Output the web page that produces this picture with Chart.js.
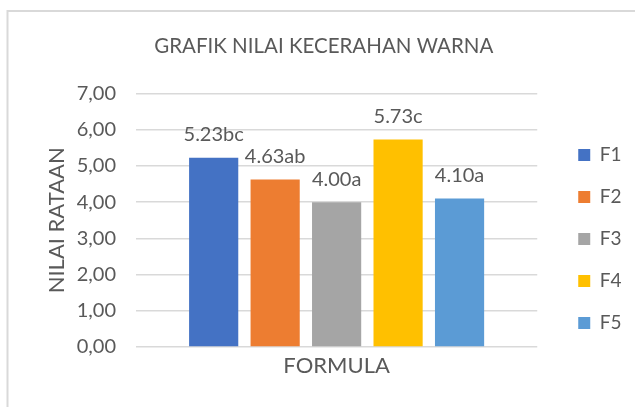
<!DOCTYPE html>
<html>
<head>
<meta charset="utf-8">
<script src="https://cdn.jsdelivr.net/npm/chart.js"></script>
<style>
  body { margin: 0; background: #fff; }
  #wrap { width: 635px; height: 407px; position: relative; }
</style>
</head>
<body>
<div id="wrap"><canvas id="chart" width="635" height="407"></canvas></div>
<script>
// Data
const seriesNames = ['F1', 'F2', 'F3', 'F4', 'F5'];
const meanValues = [5.23, 4.63, 4.00, 5.73, 4.10];
const notations = ['bc', 'ab', 'a', 'c', 'a'];
const barColors = ['#4472C4', '#ED7D31', '#A5A5A5', '#FFC000', '#5B9BD5'];
const categories = [''];

const textColor = '#595959';
const fontFamily = 'Lato, "Noto Sans", sans-serif';

// frame around the chart (like the Excel chart border)
const framePlugin = {
    id: 'frame',
    beforeDraw(chart) {
        const ctx = chart.ctx;
        ctx.save();
        ctx.strokeStyle = '#d9d9d9';
        ctx.lineWidth = 2;
        ctx.strokeRect(7.5, 11, chart.width + 10, chart.height + 10);
        ctx.restore();
    }
};

// value + letter notation above each bar
const barLabelPlugin = {
    id: 'barLabels',
    afterDatasetsDraw(chart) {
        const ctx = chart.ctx;
        ctx.save();
        ctx.font = '20px ' + fontFamily;
        ctx.fillStyle = textColor;
        ctx.textAlign = 'center';
        ctx.textBaseline = 'middle';
        chart.data.datasets.forEach((ds, i) => {
            const bar = chart.getDatasetMeta(i).data[0];
            const text = ds.data[0].toFixed(2) + notations[i];
            ctx.fillText(text, bar.x, bar.y - 23);
        });
        ctx.restore();
    }
};

new Chart(document.getElementById('chart').getContext('2d'), {
    type: 'bar',
    data: {
        labels: categories,
        datasets: seriesNames.map((name, i) => ({
            label: name,
            data: [meanValues[i]],
            backgroundColor: barColors[i],
            categoryPercentage: 0.766,
            barPercentage: 0.8
        }))
    },
    options: {
        responsive: false,
        animation: false,
        layout: { padding: { left: 16, right: 3.5, top: 0, bottom: 0 } },
        scales: {
            x: {
                grid: { display: false },
                border: { display: false },
                ticks: { display: false },
                title: {
                    display: true,
                    text: 'FORMULA',
                    color: textColor,
                    font: { family: fontFamily, size: 22 },
                    padding: { top: 0, bottom: 28 }
                },
                afterFit: s => { s.height = 60; }
            },
            y: {
                min: 0,
                max: 7,
                ticks: {
                    stepSize: 1,
                    padding: 20,
                    color: textColor,
                    font: { family: fontFamily, size: 20 },
                    callback: v => v.toFixed(2).replace('.', ',')
                },
                grid: { color: '#d9d9d9', lineWidth: 1.5, drawTicks: false },
                border: { display: false },
                title: {
                    display: true,
                    text: 'NILAI RATAAN',
                    color: textColor,
                    font: { family: fontFamily, size: 22 },
                    padding: { top: 28, bottom: 0 }
                },
                afterFit: s => { s.width = 120; }
            },
            // empty space between plot area and legend
            gap: {
                position: 'right',
                grid: { display: false },
                border: { display: false },
                ticks: { display: false },
                afterFit: s => { s.width = 18; }
            }
        },
        plugins: {
            title: {
                display: true,
                text: 'GRAFIK NILAI KECERAHAN WARNA',
                color: textColor,
                font: { family: fontFamily, size: 20.5, weight: 'normal' },
                padding: { top: 34, bottom: 35 }
            },
            legend: {
                position: 'right',
                title: {
                    display: true,
                    text: ' ',
                    font: { size: 10 },
                    padding: { top: 29.5, bottom: 29.5 }
                },
                labels: {
                    boxWidth: 12,
                    boxHeight: 12,
                    padding: 23,
                    color: textColor,
                    font: { family: fontFamily, size: 19 }
                }
            },
            tooltip: { enabled: false }
        }
    },
    plugins: [framePlugin, barLabelPlugin]
});
</script>
</body>
</html>
